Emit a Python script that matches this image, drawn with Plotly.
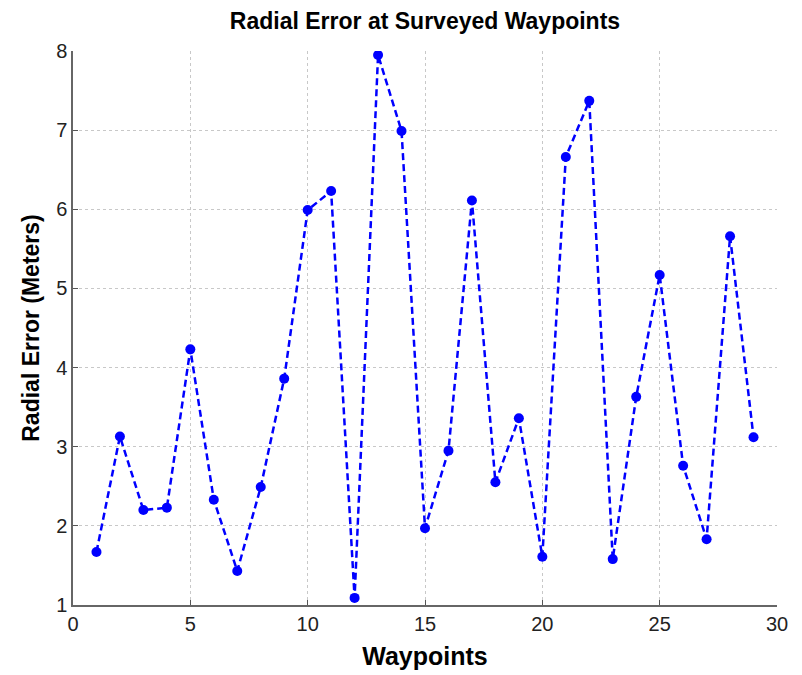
import plotly.graph_objects as go

waypoints = list(range(1, 30))
radial_error = [1.67, 3.13, 2.20, 2.23, 4.23, 2.33, 1.43, 2.49, 3.86, 5.99,
                6.23, 1.09, 7.95, 6.99, 1.97, 2.95, 6.11, 2.55, 3.36, 1.61,
                6.66, 7.37, 1.58, 3.63, 5.17, 2.76, 1.83, 5.66, 3.12]
x_ticks = [0, 5, 10, 15, 20, 25, 30]
y_ticks = [1, 2, 3, 4, 5, 6, 7, 8]

fig = go.Figure()
fig.add_trace(go.Scatter(
    x=waypoints, y=radial_error, mode="lines+markers",
    line=dict(color="#0000FF", width=2.5, dash="7px,4px"),
    marker=dict(color="#0000FF", size=10, symbol="circle"),
    showlegend=False,
))

font = "Liberation Sans, Arial, sans-serif"
W, H = 794, 667
fig.update_layout(
    width=W, height=H,
    paper_bgcolor="white", plot_bgcolor="white",
    margin=dict(l=65, r=25, t=43, b=70),
    title=dict(text="<b>Radial Error at Surveyed Waypoints</b>", x=0.5, xanchor="center",
               xref="paper", y=1 - 13 / H, yref="container", yanchor="middle", automargin=False,
               font=dict(family=font, size=23, color="black")),
    font=dict(family=font),
)
fig.update_xaxes(
    range=[0, 30], tickvals=x_ticks, ticks="inside", ticklen=5, tickcolor="#555",
    showline=True, linecolor="#666", linewidth=1.5, mirror=False,
    showgrid=True, gridcolor="#c8c8c8", griddash="dot", gridwidth=1,
    zeroline=False, tickfont=dict(size=20, color="#222"), automargin=False,
    title=dict(text="<b>Waypoints</b>", font=dict(size=25, color="black"), standoff=14),
)
fig.update_yaxes(
    range=[1, 8], tickvals=y_ticks, ticks="inside", ticklen=5, tickcolor="#555",
    showline=True, linecolor="#666", linewidth=1.5, mirror=False,
    showgrid=True, gridcolor="#c8c8c8", griddash="dot", gridwidth=1,
    zeroline=False, tickfont=dict(size=20, color="#222"), automargin=False,
    title=dict(text="<b>Radial Error (Meters)</b>", font=dict(size=23, color="black"), standoff=10),
)
fig.write_html("out.html")
